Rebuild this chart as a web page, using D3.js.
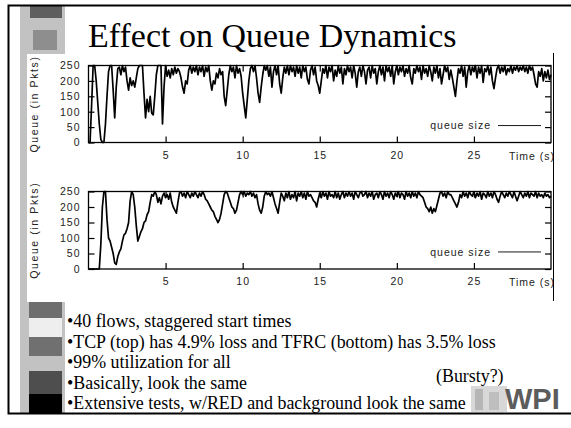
<!DOCTYPE html>
<html><head><meta charset="utf-8">
<script src="https://cdn.jsdelivr.net/npm/d3@7"></script>
<style>body{margin:0;background:#fff}svg{display:block}</style>
</head><body>
<svg id="c" width="571" height="428"></svg>
<script>
const slideTitle = "Effect on Queue Dynamics";
const bulletLines = [
  "40 flows, staggered start times",
  "TCP (top) has 4.9% loss and TFRC (bottom) has 3.5% loss",
  "99% utilization for all",
  "Basically, look the same",
  "Extensive tests, w/RED and background look the same"
];
const sideNote = "(Bursty?)";
const yAxisTitle = "Queue (in Pkts)";
const xAxisTitle = "Time (s)";
const legendLabel = "queue size";
const yTickValues = [0, 50, 100, 150, 200, 250];
const xTickValues = [5, 10, 15, 20, 25];
const timeDomain = [0, 30];
const queueDomain = [0, 250];
const sampleStep = 0.1; // seconds between samples

// TCP (top chart), one value per 0.1 s
const tcpQueue = [
  0,0,120,250,250,200,130,60,10,0,
  0,60,150,230,250,250,170,80,180,240,
  245,220,250,230,245,200,170,210,185,200,
  180,210,240,250,250,250,160,80,140,100,
  150,95,90,150,220,250,250,250,60,180,
  250,215,235,210,240,220,245,225,240,230,
  210,180,160,200,190,235,250,225,245,230,
  250,220,245,230,250,215,245,230,250,200,
  170,200,190,225,210,240,220,230,150,120,
  170,220,250,230,245,210,250,225,240,215,
  160,120,80,140,200,240,250,230,250,210,
  160,130,180,220,250,235,250,215,245,180,
  230,250,220,250,190,160,210,245,225,250,
  220,250,230,245,215,250,225,245,210,250,
  230,245,205,190,235,250,220,245,200,185,
  160,200,240,225,250,210,245,230,250,200,
  235,215,250,225,245,190,240,220,250,230,
  245,210,250,225,180,230,245,215,250,230,
  190,235,245,210,250,225,240,190,230,250,
  220,245,200,250,230,245,215,250,190,230,
  250,220,245,230,250,215,240,225,250,210,
  190,240,225,250,230,245,205,250,225,240,
  215,250,230,200,245,225,250,210,240,190,
  220,250,230,245,205,235,210,180,150,200,
  240,225,250,215,245,180,230,250,220,245,
  230,250,210,245,225,250,195,240,230,250,
  220,245,200,175,210,240,250,225,245,230,
  250,220,240,230,250,225,245,235,250,230,
  245,235,250,230,245,225,250,235,245,220,
  190,180,230,215,240,200,230,210,235,205,
  220
];

// TFRC (bottom chart), one value per 0.1 s
const tfrcQueue = [
  0,0,0,0,0,0,0,0,80,200,
  250,250,160,100,90,70,50,20,15,40,
  55,65,90,110,115,130,150,220,250,240,
  200,140,90,105,120,130,150,155,175,185,
  215,240,235,250,240,215,230,210,235,245,
  230,240,225,245,215,200,190,180,215,245,
  250,235,245,230,250,240,230,245,235,250,
  240,230,245,235,250,240,225,220,210,200,
  190,185,170,160,150,160,180,210,240,250,
  245,230,215,200,195,180,190,215,240,250,
  240,250,235,245,240,250,235,245,230,240,
  210,190,180,200,235,250,240,245,235,250,
  230,210,195,180,215,245,235,220,245,230,
  250,225,240,230,250,220,245,235,250,230,
  245,225,250,235,240,230,220,215,200,225,
  245,230,250,235,245,225,250,235,240,230,
  250,230,245,225,240,250,230,245,235,250,
  235,245,225,250,240,230,245,250,235,240,
  250,230,245,235,250,225,240,245,230,250,
  240,225,250,235,245,230,250,240,225,245,
  235,250,230,245,240,225,250,235,245,230,
  250,235,245,230,250,240,235,230,215,200,
  195,185,200,180,195,185,205,225,245,250,
  235,245,230,250,240,240,230,220,210,200,
  215,240,230,250,235,245,230,250,240,235,
  250,230,245,235,250,225,245,240,230,250,
  235,245,230,250,240,225,215,235,250,240,
  230,245,235,250,240,230,250,235,220,235,
  250,240,230,245,235,250,230,245,240,235,
  250,230,245,235,240,230,245,235,240,230,
  235
];

const svg = d3.select("#c");
const gpFont = "'Liberation Sans', Arial, sans-serif";
const serif = "'Liberation Serif', 'Times New Roman', serif";

// ---- slide decoration ----
svg.append("rect").attr("x",20).attr("y",5).attr("width",45).attr("height",409).attr("fill","#c2c2c2");
svg.append("rect").attr("x",30).attr("y",6).attr("width",32).attr("height",12).attr("fill","#5e5e5e");
svg.append("rect").attr("x",33).attr("y",30).attr("width",24).attr("height",20).attr("fill","#8e8e8e");
const blocks = [[302,318,"#6e6e6e"],[318,337,"#eeeeee"],[337,356,"#707070"],[371,394,"#4e4e4e"],[394,414,"#000000"]];
blocks.forEach(b=>svg.append("rect").attr("x",29).attr("y",b[0]).attr("width",33).attr("height",b[1]-b[0]).attr("fill",b[2]));
// pasted chart image area
svg.append("rect").attr("x",27).attr("y",54).attr("width",527).attr("height",248).attr("fill","#fff");
svg.append("line").attr("x1",553.5).attr("x2",553.5).attr("y1",53).attr("y2",301).attr("stroke","#000").attr("stroke-width",1);
// frame
svg.append("rect").attr("x",8.5).attr("y",5.5).attr("width",580).attr("height",408).attr("fill","none").attr("stroke","#000").attr("stroke-width",2);

// title
svg.append("text").attr("x",88).attr("y",47).attr("font-family",serif).attr("font-size",34).attr("fill","#000").text(slideTitle);

// ---- charts ----
svg.append("clipPath").attr("id","imgclip").append("rect").attr("x",27).attr("y",54).attr("width",526).attr("height",248);
const chartsG = svg.append("g").attr("clip-path","url(#imgclip)");
const gpText = sel => sel.attr("font-family",gpFont).attr("font-size",10.5).attr("letter-spacing","1px").attr("fill","#222");

function drawChart(values, top, bottom) {
  const g = chartsG.append("g");
  const x = d3.scaleLinear().domain(timeDomain).range([88.5, 551]);
  const y = d3.scaleLinear().domain(queueDomain).range([bottom, top]);
  const line = d3.line().x((d,i)=>x(i*sampleStep)).y(d=>y(d));
  g.append("path").datum(values).attr("d",line).attr("fill","none").attr("stroke","#000").attr("stroke-width",1.7).attr("stroke-linejoin","round");

  const styleAxis = sel => {
    sel.select(".domain").remove();
    sel.selectAll("line").attr("stroke","#000").attr("stroke-width",1.2);
    sel.selectAll("text").call(gpText);
  };
  g.append("g").attr("transform",`translate(${x(timeDomain[0])},0)`)
    .call(d3.axisLeft(y).tickValues(yTickValues).tickSize(-6).tickPadding(8)).call(styleAxis);
  g.append("g").attr("transform",`translate(${x(timeDomain[1])},0)`)
    .call(d3.axisRight(y).tickValues(yTickValues).tickSize(-6).tickFormat("")).call(styleAxis);
  g.append("g").attr("transform",`translate(0,${bottom})`)
    .call(d3.axisBottom(x).tickValues(xTickValues).tickSize(-6).tickPadding(9)).call(styleAxis);
  g.append("g").attr("transform",`translate(0,${top})`)
    .call(d3.axisTop(x).tickValues(xTickValues).tickSize(-6).tickFormat("")).call(styleAxis);
  g.append("rect").attr("x",x(timeDomain[0])).attr("y",top).attr("width",x(timeDomain[1])-x(timeDomain[0])).attr("height",bottom-top)
    .attr("fill","none").attr("stroke","#000").attr("stroke-width",1.3);

  g.append("text").attr("x",509).attr("y",bottom+17).call(gpText).text(xAxisTitle);
  const ly = y(55);
  g.append("text").attr("x",491).attr("y",ly).attr("dy","0.35em").attr("text-anchor","end").call(gpText).text(legendLabel);
  g.append("line").attr("x1",498).attr("x2",541).attr("y1",ly).attr("y2",ly).attr("stroke","#000").attr("stroke-width",0.9);
  g.append("text").attr("transform",`translate(38,${(top+bottom)/2}) rotate(-90)`).attr("text-anchor","middle")
    .call(gpText).attr("letter-spacing","1.6px").text(yAxisTitle);
}
drawChart(tcpQueue, 65.5, 142.5);
drawChart(tfrcQueue, 191.5, 269);

// ---- WPI logo ----
const logo = svg.append("g");
logo.append("rect").attr("x",471).attr("y",386).attr("width",36).attr("height",26).attr("fill","#d8d8d8");
logo.append("rect").attr("x",475).attr("y",389).attr("width",8).attr("height",21).attr("fill","#b6b6b6");
logo.append("rect").attr("x",489).attr("y",392).attr("width",10).attr("height",18).attr("fill","#bebebe");
logo.append("text").attr("x",505).attr("y",409).attr("font-family",gpFont).attr("font-weight","bold").attr("font-size",29).attr("fill","#5c5c5c").text("WPI");

// ---- bullets ----
const bl = svg.append("g").attr("font-family",serif).attr("fill","#000");
const bulletSize = 17.9;
bulletLines.forEach((t,i)=>{
  bl.append("text").attr("x",67).attr("y",327 + i*20.5).attr("font-size",bulletSize).text("\u2022"+t);
});
bl.append("text").attr("x",436).attr("y",382).attr("font-size",bulletSize).text(sideNote);
</script>
</body></html>
